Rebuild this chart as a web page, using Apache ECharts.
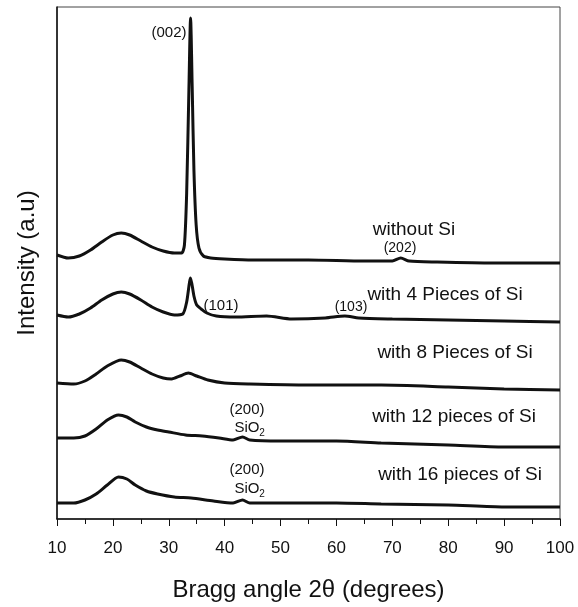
<!DOCTYPE html>
<html>
<head>
<meta charset="utf-8">
<script src="https://cdn.jsdelivr.net/npm/echarts/dist/echarts.min.js"></script>
<style>
  html, body { margin: 0; padding: 0; background: #fff; }
  #chart { width: 578px; height: 607px; }
</style>
</head>
<body>
<div id="chart"></div>
<script>
// XRD patterns, 2theta in degrees, intensity in a.u. above each trace's own baseline
const xTicks = [10, 20, 30, 40, 50, 60, 70, 80, 90, 100];

const angleNoSi = [10, 12, 14, 16, 18, 20, 21.5, 23, 25, 27, 29, 31, 32.3, 32.8, 33.2, 33.6, 33.9, 34.2, 34.5, 34.9, 35.4, 36.2, 37.5, 40, 45, 55, 65, 70, 71.5, 73, 78, 88, 100];
const intNoSi = [8, 5, 7, 13, 21, 28, 30, 28, 22, 16, 12, 10, 10, 18, 70, 173, 245, 173, 93, 38, 15, 7, 5, 4, 3, 3, 2, 2, 5, 2, 1, 0, 0];

const angle4Si = [10, 12, 14, 16, 18, 20, 21.5, 23, 25, 27, 29, 31, 32.5, 33.2, 33.9, 34.5, 35, 35.8, 36.8, 38.5, 42, 47.5, 52, 58, 61.5, 64, 70, 80, 90, 100];
const int4Si = [7, 5, 8, 14, 22, 28, 30, 28, 22, 15, 10, 7, 8, 20, 44, 26, 17, 13, 9, 6, 5, 6, 3, 4, 6, 4, 3, 2, 1, 0];

const angle8Si = [10, 13, 15, 17, 19, 21.5, 23, 25, 27, 29, 30.5, 32, 33.5, 35, 37, 40, 44.5, 55, 68, 80, 90, 100];
const int8Si = [7, 6, 9, 16, 24, 30, 28, 22, 16, 12, 11, 14, 17, 14, 10, 7, 6, 5, 5, 3, 1, 0];

const angle12Si = [10, 13, 15, 17, 19, 21, 22.5, 24, 26, 28, 30, 33, 36, 39, 41.5, 43.2, 44.5, 50, 60, 68, 80, 90, 100];
const int12Si = [9, 9, 11, 18, 27, 32, 30, 25, 20, 17, 15, 12, 11, 9, 7, 10, 7, 6, 6, 4, 2, 0, 0];

const angle16Si = [10, 13, 15, 17, 19, 21, 22.5, 24, 26, 28, 31, 34, 38, 41.5, 43.2, 44.5, 50, 60, 68, 80, 90, 100];
const int16Si = [4, 4, 7, 13, 22, 30, 28, 22, 16, 13, 10, 9, 6, 4, 7, 4, 4, 4, 3, 2, 0, 0];

// vertical offsets used to stack the traces
const offsets = [256, 197, 129, 72, 12];
const sampleNames = ["without Si", "with 4 Pieces of Si", "with 8 Pieces of Si", "with 12 pieces of Si", "with 16 pieces of Si"];

const traces = [
  [angleNoSi, intNoSi],
  [angle4Si, int4Si],
  [angle8Si, int8Si],
  [angle12Si, int12Si],
  [angle16Si, int16Si]
];

const FONT = "'Liberation Sans', Arial, sans-serif";

function label(text, x, y, size) {
  return {
    type: "text",
    x: x,
    y: y,
    style: {
      text: text,
      fill: "#111",
      fontSize: size,
      fontFamily: FONT,
      align: "center",
      verticalAlign: "middle"
    }
  };
}

const chart = echarts.init(document.getElementById("chart"));

const series = traces.map((t, i) => ({
  type: "line",
  name: sampleNames[i],
  showSymbol: false,
  smooth: 0.25,
  lineStyle: { color: "#111", width: 3 },
  data: t[0].map((a, j) => [a, t[1][j] + offsets[i]])
}));

chart.setOption({
  animation: false,
  backgroundColor: "#fff",
  grid: {
    left: 57,
    right: 18,
    top: 7,
    bottom: 88,
    show: true,
    borderColor: "#444",
    borderWidth: 1
  },
  xAxis: {
    type: "value",
    min: 10,
    max: 100,
    interval: 10,
    name: "Bragg angle 2\u03b8 (degrees)",
    nameLocation: "middle",
    nameGap: 59,
    nameTextStyle: { fontSize: 24, color: "#111", fontFamily: FONT },
    axisLine: { lineStyle: { color: "#111", width: 1.5 } },
    axisTick: { length: 7, lineStyle: { color: "#111" } },
    minorTick: { show: true, splitNumber: 2, length: 5, lineStyle: { color: "#111" } },
    axisLabel: { fontSize: 17, color: "#111", fontFamily: FONT, margin: 21 },
    splitLine: { show: false }
  },
  yAxis: {
    type: "value",
    min: 0,
    max: 512,
    name: "Intensity (a.u)",
    nameLocation: "middle",
    nameRotate: 90,
    nameGap: 18,
    nameTextStyle: { fontSize: 24, color: "#111", fontFamily: FONT },
    axisLine: { show: true, lineStyle: { color: "#111", width: 1.5 } },
    axisTick: { show: false },
    axisLabel: { show: false },
    splitLine: { show: false }
  },
  graphic: [
    label("(002)", 169, 33, 15),
    label(sampleNames[0], 414, 230, 19),
    label("(202)", 400, 248, 14),
    label(sampleNames[1], 445, 295, 19),
    label("(101)", 221, 306, 15),
    label("(103)", 351, 307, 14),
    label(sampleNames[2], 455, 353, 19),
    label("(200)", 247, 410, 15),
    label("SiO", 247, 428, 15),
    label("2", 262, 433, 10),
    label(sampleNames[3], 454, 417, 19),
    label("(200)", 247, 470, 15),
    label("SiO", 247, 489, 15),
    label("2", 262, 494, 10),
    label(sampleNames[4], 460, 475, 19)
  ],
  series: series
});
</script>
</body>
</html>
